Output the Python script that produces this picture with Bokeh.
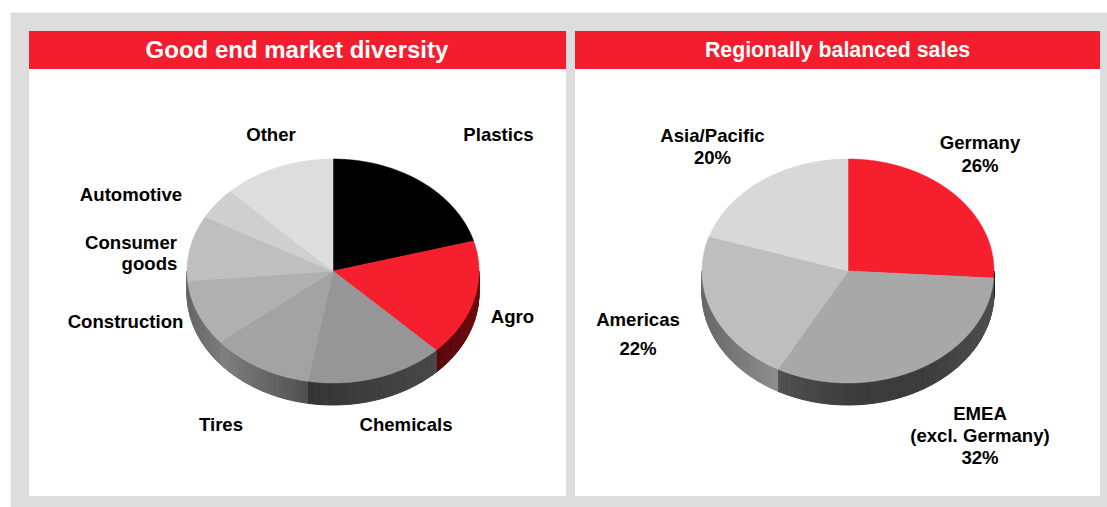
import math
from bokeh.embed import file_html
from bokeh.models import ColumnDataSource
from bokeh.plotting import figure
from bokeh.resources import INLINE
from bokeh.core.properties import value

# Data
market_names = ["Plastics", "Agro", "Chemicals", "Tires", "Construction", "Consumer goods", "Automotive", "Other"]
market_shares = [20.7, 16.8, 15.3, 11.3, 9.5, 9.4, 4.6, 12.4]
market_top_colors = ["#000000", "#f61f2e", "#969696", "#a3a3a3", "#b0b0b0", "#bfbfbf", "#cfcfcf", "#dddddd"]
market_side_colors = [["#000000"], ["#5a060a", "#6c0a10"], ["#343434", "#484848"],
                      ["#808080", "#505050"], ["#666666", "#7a7a7a"], ["#666666"],
                      ["#666666"], ["#666666"]]

region_names = ["Germany", "EMEA (excl. Germany)", "Americas", "Asia/Pacific"]
region_shares = [26, 32, 22, 20]
region_top_colors = ["#f61f2e", "#a8a8a8", "#bebebe", "#d8d8d8"]
region_side_colors = [["#000000"], ["#505050", "#3c3c3c", "#3c3c3c", "#4e4e4e"],
                      ["#686868", "#8e8e8e"], ["#686868"]]

titles = ["Good end market diversity", "Regionally balanced sales"]

GREY = "#dddddd"
RED = "#f41d2d"
RX, RY, DEPTH = 146, 112, 22
CY = 271
CX_LEFT, CX_RIGHT = 333, 848
FONT = value("Liberation Sans")

p = figure(width=1097, height=495, x_range=(10.5, 1107.5), y_range=(507.5, 12.5),
           toolbar_location=None, output_backend="svg", min_border=0,
           background_fill_color=GREY, border_fill_color=GREY, outline_line_color=None)
p.axis.visible = False
p.grid.visible = False
p.styles = {"margin-left": "10px", "margin-top": "12px"}

# panels and title bars
p.quad(left=[29, 575], right=[566, 1100], top=[69, 69], bottom=[496, 496], fill_color="white", line_color=None)
p.quad(left=[29, 575], right=[566, 1100], top=[31, 31], bottom=[69, 69], fill_color=RED, line_color=None)


def mix(stops, t):
    t = max(0.0, min(1.0, t))
    if len(stops) == 1:
        return stops[0]
    pos = t * (len(stops) - 1)
    i = min(int(pos), len(stops) - 2)
    f = pos - i
    ca = [int(stops[i][k:k + 2], 16) for k in (1, 3, 5)]
    cb = [int(stops[i + 1][k:k + 2], 16) for k in (1, 3, 5)]
    return "#" + "".join(f"{round(x + (y - x) * f):02x}" for x, y in zip(ca, cb))


def pie(cx, shares, top_colors, side_colors):
    total = sum(shares)
    edges = [0.0]
    for s in shares:
        edges.append(edges[-1] + s / total * 2 * math.pi)
    # side wall strips (front half only, 90 to 270 degrees clockwise from top)
    xs, ys, cols = [], [], []
    for a0, a1, stops in zip(edges[:-1], edges[1:], side_colors):
        lo, hi = max(a0, math.pi / 2), min(a1, 3 * math.pi / 2)
        if hi <= lo:
            continue
        x_right, x_left = cx + RX * math.sin(lo), cx + RX * math.sin(hi)
        n = max(2, int((hi - lo) / 0.02))
        for i in range(n):
            s0 = lo + (hi - lo) * i / n
            s1 = lo + (hi - lo) * (i + 1) / n
            x0, x1 = cx + RX * math.sin(s0), cx + RX * math.sin(s1)
            y0, y1 = CY - RY * math.cos(s0), CY - RY * math.cos(s1)
            xs.append([x0, x1, x1, x0])
            ys.append([y0, y1, y1 + DEPTH, y0 + DEPTH])
            cols.append(mix(stops, ((x0 + x1) / 2 - x_left) / ((x_right - x_left) or 1)))
    p.patches(xs, ys, fill_color=cols, line_color=cols, line_width=1)
    # top face
    xs, ys = [], []
    for a0, a1 in zip(edges[:-1], edges[1:]):
        n = max(3, int((a1 - a0) / 0.01))
        angles = [a0 + (a1 - a0) * i / n for i in range(n + 1)]
        xs.append([cx] + [cx + RX * math.sin(a) for a in angles])
        ys.append([CY] + [CY - RY * math.cos(a) for a in angles])
    p.patches(xs, ys, fill_color=top_colors, line_color=top_colors, line_width=0.5)


pie(CX_LEFT, market_shares, market_top_colors, market_side_colors)
pie(CX_RIGHT, region_shares, region_top_colors, region_side_colors)

# titles
p.text(x=[297], y=[49.5], text=[titles[0]], text_align="center", text_baseline="middle",
       text_color="white", text_font=FONT, text_font_style="bold", text_font_size="24px")
p.text(x=[837.5], y=[49.5], text=[titles[1]], text_align="center", text_baseline="middle",
       text_color="white", text_font=FONT, text_font_style="bold", text_font_size="21.3px")

# labels: (text, x, y)
labels = [
    ("Plastics", 498.5, 134.5), ("Agro", 512.5, 316.5), ("Chemicals", 406, 424.5), ("Tires", 221, 424.5),
    ("Construction", 125.5, 321.5), ("Consumer", 131, 242.5), ("goods", 149.5, 263.5),
    ("Automotive", 131, 194.5), ("Other", 271, 134.5),
    ("Germany", 980, 142.5), ("26%", 980, 165.5), ("EMEA", 980, 413.5), ("(excl. Germany)", 980, 435.5), ("32%", 980, 457.5),
    ("Americas", 638, 319.5), ("22%", 638, 348.5), ("Asia/Pacific", 712.5, 135.5), ("20%", 712.5, 157.5),
]
src = ColumnDataSource(dict(t=[l[0] for l in labels], x=[l[1] for l in labels], y=[l[2] for l in labels]))
p.text(x="x", y="y", text="t", source=src, text_align="center", text_baseline="middle", text_color="black",
       text_font=FONT, text_font_style="bold", text_font_size="18.6px")

open("out.html", "w").write(file_html(p, INLINE))
